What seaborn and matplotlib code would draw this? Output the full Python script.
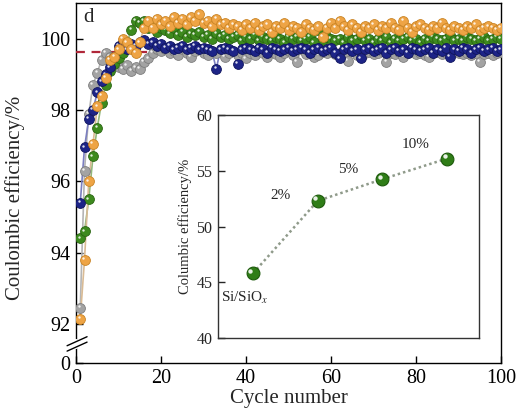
import numpy as np
import pandas as pd
import matplotlib
matplotlib.use("Agg")
import matplotlib.pyplot as plt
import matplotlib.transforms as mtransforms
import seaborn as sns

# ---------------- data ----------------
cycles = list(range(1, 101))

ce_grey = [92.45, 96.3, 97.9, 98.7, 99.05, 99.4, 99.6, 99.5, 99.3, 99.2,
           99.15, 99.25, 99.1, 99.2, 99.15, 99.35, 99.45, 99.6, 99.7, 99.65,
           99.7, 99.6, 99.65, 99.55, 99.7, 99.6, 99.5, 99.65, 99.7, 99.6,
           99.55, 99.65, 99.6, 99.7, 99.5, 99.6, 99.65, 99.55, 99.6, 99.45,
           99.6, 99.55, 99.65, 99.6, 99.5, 99.62, 99.58, 99.5, 99.6, 99.65,
           99.55, 99.35, 99.7, 99.58, 99.6, 99.5, 99.55, 99.62, 99.6, 99.65,
           99.58, 99.6, 99.52, 99.38, 99.65, 99.55, 99.5, 99.6, 99.62, 99.58,
           99.6, 99.65, 99.35, 99.6, 99.58, 99.62, 99.5, 99.6, 99.65, 99.58,
           99.6, 99.55, 99.5, 99.6, 99.62, 99.58, 99.6, 99.55, 99.65, 99.6,
           99.58, 99.6, 99.55, 99.6, 99.35, 99.58, 99.6, 99.55, 99.6, 99.62]

ce_blue = [95.4, 96.95, 97.75, 98.0, 98.5, 98.8, 99.0, 99.2, 99.5, 99.8,
           99.9, 99.7, 99.85, 99.8, 99.9, 99.95, 99.85, 99.9, 99.8, 99.85,
           99.75, 99.8, 99.7, 99.75, 99.8, 99.7, 99.75, 99.8, 99.7, 99.75,
           99.7, 99.65, 99.15, 99.7, 99.75, 99.7, 99.65, 99.3, 99.7, 99.75,
           99.7, 99.65, 99.75, 99.7, 99.6, 99.75, 99.7, 99.65, 99.7, 99.75,
           99.65, 99.7, 99.75, 99.7, 99.6, 99.7, 99.75, 99.65, 99.7, 99.75,
           99.6, 99.45, 99.7, 99.75, 99.65, 99.7, 99.45, 99.7, 99.75, 99.65,
           99.7, 99.75, 99.6, 99.7, 99.75, 99.65, 99.7, 99.6, 99.75, 99.7,
           99.65, 99.7, 99.75, 99.6, 99.7, 99.65, 99.75, 99.5, 99.7, 99.65,
           99.75, 99.7, 99.6, 99.7, 99.75, 99.65, 99.7, 99.75, 99.65, 99.7]

ce_green = [94.4, 94.6, 95.5, 96.7, 97.5, 98.2, 98.7, 99.1, 99.3, 99.45,
            99.6, 99.9, 100.25, 100.5, 100.45, 100.5, 100.3, 100.4, 100.2, 100.3,
            100.25, 100.15, 100.3, 100.1, 100.2, 100.05, 100.15, 100.1, 100.2, 100.05,
            100.1, 100.0, 100.15, 100.05, 100.1, 100.0, 100.05, 100.1, 99.95, 100.05,
            100.0, 100.1, 99.95, 100.05, 100.0, 99.95, 100.05, 100.0, 99.9, 100.05,
            100.0, 100.05, 99.95, 100.0, 100.05, 99.9, 100.25, 99.95, 100.05, 100.0,
            99.95, 100.0, 99.9, 100.05, 99.95, 100.0, 100.1, 99.95, 100.0, 99.9,
            100.0, 99.95, 100.05, 99.9, 100.0, 99.95, 100.0, 100.05, 99.95, 100.0,
            99.9, 100.0, 99.95, 100.05, 100.0, 99.95, 100.0, 100.1, 99.95, 100.0,
            99.95, 100.05, 100.0, 99.95, 100.0, 100.05, 99.95, 100.0, 100.05, 100.0]

ce_orange = [92.15, 93.8, 96.0, 97.05, 98.1, 98.4, 98.9, 99.4, 99.5, 99.7,
             100.0, 99.9, 99.7, 99.6, 99.9, 100.3, 100.5, 100.3, 100.55, 100.4,
             100.5, 100.35, 100.6, 100.45, 100.55, 100.4, 100.6, 100.5, 100.68, 100.45,
             100.5, 100.35, 100.55, 100.4, 100.45, 100.3, 100.4, 100.35, 100.25, 100.4,
             100.3, 100.45, 100.25, 100.35, 100.4, 100.2, 100.35, 100.3, 100.45, 100.25,
             100.35, 100.3, 100.2, 100.4, 100.3, 100.25, 100.35, 100.05, 100.3, 100.45,
             100.3, 100.5, 100.35, 100.25, 100.4, 100.3, 100.2, 100.35, 100.3, 100.4,
             100.25, 100.35, 100.3, 100.45, 100.3, 100.25, 100.5, 100.3, 100.2, 100.35,
             100.4, 100.3, 100.25, 100.35, 100.3, 100.45, 100.3, 100.25, 100.35, 100.3,
             100.25, 100.35, 100.3, 100.4, 100.25, 100.3, 100.35, 100.3, 100.25, 100.3]

reference_ce = 99.62

inset_labels = ["Si/SiO$_x$", "2%", "5%", "10%"]
inset_values = [45.8, 52.3, 54.25, 56.1]

y_ticks = [92, 94, 96, 98, 100]
x_ticks = [0, 20, 40, 60, 80, 100]
inset_y_ticks = [40, 45, 50, 55, 60]

# ---------------- style ----------------
sns.set_style("ticks")
plt.rcParams["font.family"] = ["Liberation Serif", "DejaVu Serif"]
plt.rcParams["mathtext.fontset"] = "stix"
plt.rcParams["xtick.direction"] = "in"
plt.rcParams["ytick.direction"] = "in"

series_order = ["grey", "green", "blue", "orange"]
series_data = {"grey": ce_grey, "green": ce_green, "blue": ce_blue, "orange": ce_orange}
frames = [pd.DataFrame({"cycle": cycles, "ce": vals, "series": name})
          for name, vals in series_data.items()]
df = pd.concat(frames, ignore_index=True)

line_pal = {"grey": "#b5b5b5", "green": "#93b87c", "blue": "#7b7fc0", "orange": "#d9bb95"}
mark_pal = {"grey": "#a3a3a3", "green": "#3d8a1e", "blue": "#1d2487", "orange": "#eea445"}
edge_pal = {"grey": "#7e7e7e", "green": "#2a6512", "blue": "#10165e", "orange": "#c98425"}

fig = plt.figure(figsize=(5.22, 4.16), dpi=100)
ax = fig.add_axes([0.1456, 0.1274, 0.8142, 0.8654])

y_bottom = 90.91
y_top = 101.0

sns.lineplot(data=df, x="cycle", y="ce", hue="series", hue_order=series_order,
             palette=line_pal, lw=1.2, legend=False, ax=ax, zorder=2)
ax.axhline(reference_ce, color="#b0283a", ls=(0, (4, 3)), lw=1.6, zorder=3)

hl = mtransforms.ScaledTranslation(-1.2 / 72, 1.2 / 72, fig.dpi_scale_trans)
for i, name in enumerate(series_order):
    sub = df[df["series"] == name]
    sns.scatterplot(data=sub, x="cycle", y="ce", color=mark_pal[name],
                    edgecolor=edge_pal[name], linewidth=0.6, s=50,
                    legend=False, ax=ax, zorder=4 + i)
    ax.scatter(sub["cycle"], sub["ce"], s=3, color="white", alpha=0.85,
               linewidths=0, zorder=4.5 + i, transform=ax.transData + hl)

ax.set_xlim(0, 100)
ax.set_ylim(y_bottom, y_top)
ax.set_xticks(x_ticks)
ax.set_yticks([y_bottom] + y_ticks)
ax.set_yticklabels(["0"] + [str(t) for t in y_ticks])
ax.tick_params(axis="both", labelsize=14.5, length=5, width=1.0, pad=4,
               colors="black")
ax.set_xlabel("Cycle number", fontsize=15, labelpad=1)
ax.set_ylabel("Coulombic efficiency/%", fontsize=15)
ax.yaxis.set_label_coords(-0.12, 0.46)
for sp in ax.spines.values():
    sp.set_linewidth(1.0)
    sp.set_color("black")

# axis break marks on the left spine
yb = 0.053
ax.plot([0.0, 0.0], [yb - 0.008, yb + 0.008], transform=ax.transAxes,
        color="white", lw=3, clip_on=False, zorder=20)
for dy in (-0.0075, 0.0075):
    ax.plot([-0.021, 0.026], [yb + dy - 0.0125, yb + dy + 0.0125],
            transform=ax.transAxes, color="black", lw=1.0, clip_on=False, zorder=21)

ax.text(0.018, 0.985, "d", transform=ax.transAxes, ha="left", va="top", fontsize=15)

# ---------------- inset ----------------
ins = fig.add_axes([0.4176, 0.1875, 0.5, 0.536])
inset_df = pd.DataFrame({"pos": range(len(inset_values)), "ce": inset_values})
sns.lineplot(data=inset_df, x="pos", y="ce", color="#8f9a8a", lw=1.8,
             ls=(0, (1, 1.2)), ax=ins, zorder=2)
sns.scatterplot(data=inset_df, x="pos", y="ce", color="#2f7d17",
                edgecolor="#1d5a0c", linewidth=0.8, s=85, ax=ins, zorder=3,
                legend=False)
ins.scatter(inset_df["pos"], inset_df["ce"], s=10, color="white", alpha=0.9,
            linewidths=0, zorder=4,
            transform=ins.transData + mtransforms.ScaledTranslation(-1.8 / 72, 1.8 / 72, fig.dpi_scale_trans))
ins.set_xlim(-0.54, 3.49)
ins.set_ylim(40, 60)
ins.set_yticks(inset_y_ticks)
ins.set_xticks([])
ins.set_xlabel("")
ins.set_ylabel("Columbic efficiency/%", fontsize=10.5, labelpad=3)
ins.tick_params(axis="y", labelsize=11.5, length=5, width=1.0, pad=4)
for sp in ins.spines.values():
    sp.set_linewidth(1.0)
    sp.set_color("#333333")

offsets = [(-6, -18), (-27, 4), (-25, 7), (-23, 10)]
for i, (lab, val) in enumerate(zip(inset_labels, inset_values)):
    ins.annotate(lab, xy=(i, val), xytext=offsets[i], textcoords="offset points",
                 ha="center", va="center", fontsize=11)

fig.savefig("out.png", dpi=100)
